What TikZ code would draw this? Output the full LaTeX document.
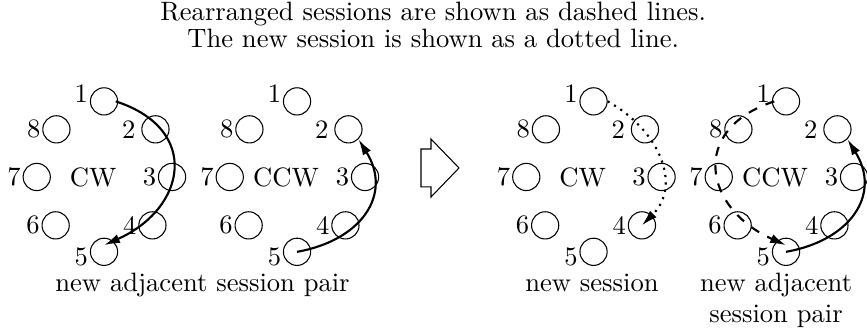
\documentclass[tikz,border=0pt]{standalone}
\usepackage{tikz}
\usetikzlibrary{arrows.meta,calc}
\tikzset{
  sess/.style={circle,draw,minimum size=0.36cm,inner sep=0pt},
  num/.style={inner sep=0.5pt},
  link/.style={-{Latex[length=6pt,width=3.5pt]},thick},
}

\begin{document}
\begin{tikzpicture}
\useasboundingbox (0,0) rectangle (11.468,4.365);
\node[anchor=base] (title1) at (5.73,4.10) {Rearranged sessions are shown as dashed lines.};
\node[anchor=base] (title2) at (5.73,3.73) {The new session is shown as a dotted line.};
% the four rings of sessions
\foreach \r/\cx/\t in {lcw/1.376/CW, lccw/3.929/CCW, rcw/7.851/CW, rccw/10.397/CCW}{
  \begin{scope}[shift={(\cx,2.024)}]
    \foreach \n/\x/\y/\s/\d in {1/0/1.0/3pt/0pt, 2/0.68/0.63/0pt/1.5pt, 3/0.9/0/0pt/0pt,
        4/0.64/-0.64/0pt/0pt, 5/0/-0.99/-2pt/0pt, 6/-0.64/-0.64/0pt/0pt,
        7/-0.89/0/0pt/0pt, 8/-0.63/0.63/0pt/0pt}
      \node[sess,label={[num,label distance=\d,yshift=\s]180:\n}] (\r\n) at (\x,\y) {};
    \node (\r txt) at (-0.145,0) {\t};
  \end{scope}
}
% sessions that move
\draw[link] ([xshift=-0.9pt]lcw1.east) to[out=-18,in=24,looseness=1.6] ([yshift=2.5pt]lcw5.center);
\draw[link] (lccw5.center) to[out=10,in=-58,looseness=1.3] (lccw2.south east);
\draw[link,dotted] (rcw1.east) to[out=-29,in=45,looseness=1.15] (rcw4.center);
\draw[link] (rccw5.center) to[out=10,in=-58,looseness=1.3] (rccw2.south east);
\draw[link,dash pattern=on 3.5pt off 3.5pt] ([xshift=0.9pt]rccw1.west) to[out=198,in=156,looseness=1.6] ([yshift=2.5pt]rccw5.center);
% hollow arrow between before and after
\draw (5.569,2.394) -- (5.701,2.394) -- (5.701,2.526) -- (6.071,2.143)
  -- (5.701,1.759) -- (5.701,1.892) -- (5.569,1.892) -- cycle;
\node[anchor=base] (cap1) at (2.679,0.503) {new adjacent session pair};
\node[anchor=base] (cap2) at (7.83,0.503) {new session};
\node[anchor=base] (cap3a) at (10.265,0.503) {new adjacent};
\node[anchor=base] (cap3b) at (10.265,0.093) {session pair};
\end{tikzpicture}
\end{document}
